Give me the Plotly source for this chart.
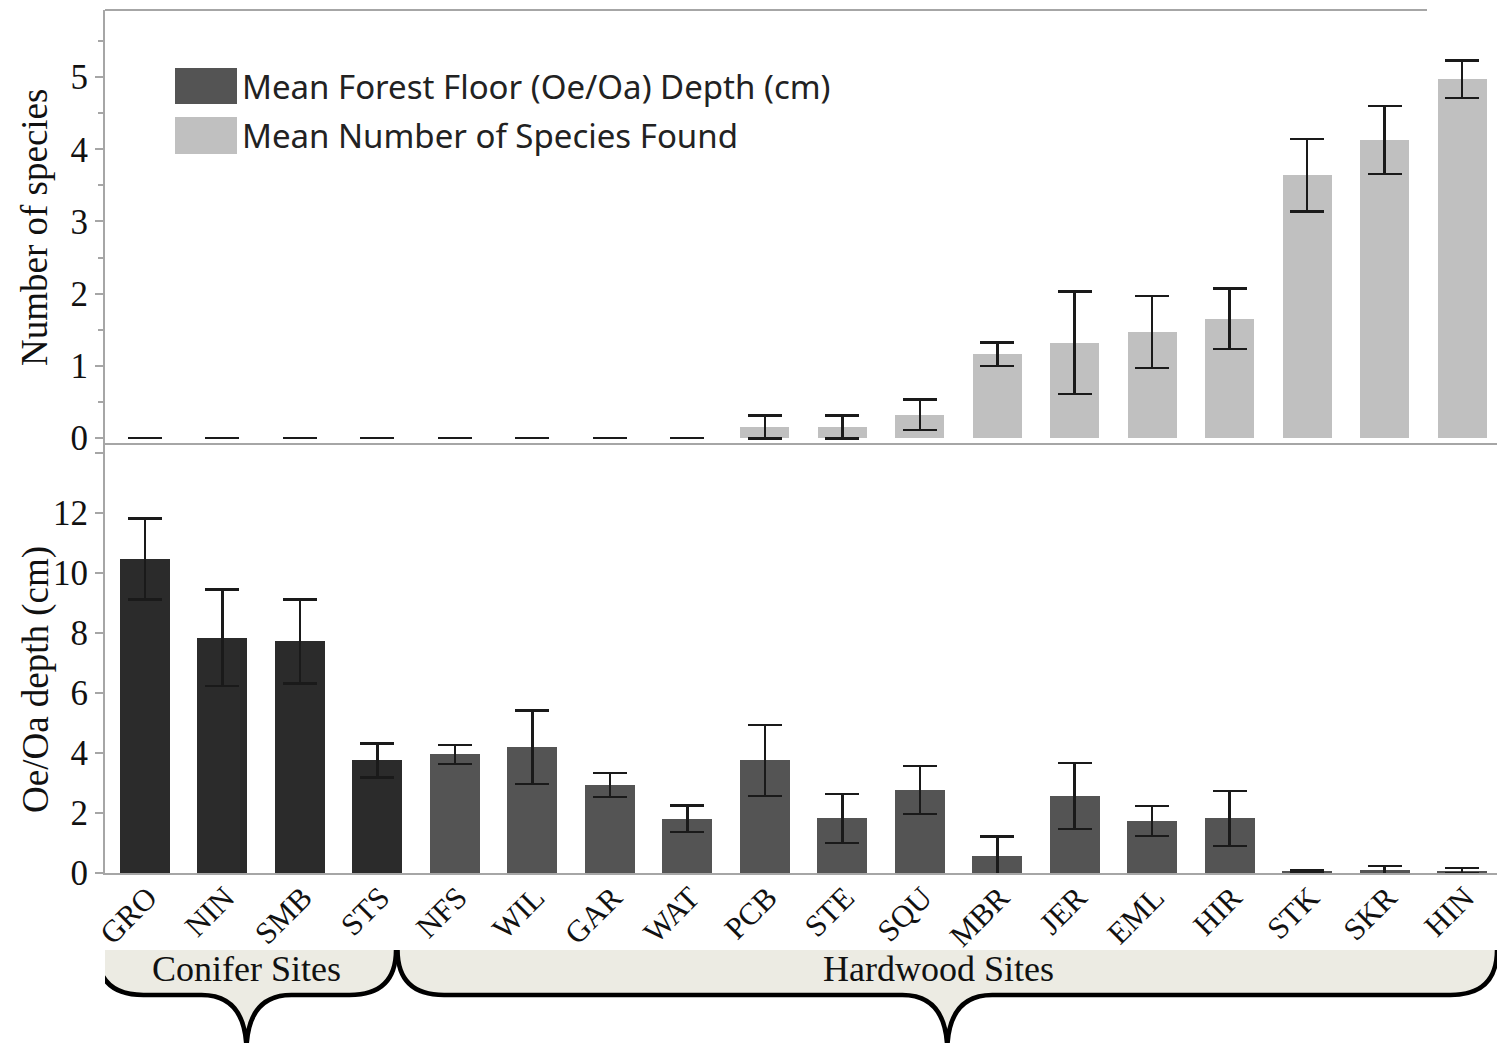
import plotly.graph_objects as go

# ---- data -------------------------------------------------------------
sites = ["GRO", "NIN", "SMB", "STS", "NFS", "WIL", "GAR", "WAT", "PCB",
         "STE", "SQU", "MBR", "JER", "EML", "HIR", "STK", "SKR", "HIN"]
site_type = ["Conifer"] * 4 + ["Hardwood"] * 14

species_mean = [0, 0, 0, 0, 0, 0, 0, 0, 0.15, 0.15, 0.32, 1.16, 1.32, 1.47,
                1.65, 3.64, 4.13, 4.97]
species_err = [0, 0, 0, 0, 0, 0, 0, 0, 0.16, 0.16, 0.21, 0.16, 0.71, 0.50,
               0.42, 0.50, 0.47, 0.26]

depth_mean = [10.47, 7.84, 7.72, 3.75, 3.95, 4.19, 2.93, 1.81, 3.75, 1.82,
              2.76, 0.57, 2.57, 1.74, 1.82, 0.05, 0.10, 0.08]
depth_err = [1.35, 1.60, 1.40, 0.56, 0.32, 1.23, 0.40, 0.44, 1.18, 0.82,
             0.80, 0.64, 1.10, 0.50, 0.92, 0.03, 0.13, 0.09]

group_labels = ["Conifer Sites", "Hardwood Sites"]
group_spans = [(-0.62, 3.24), (3.26, 17.45)]   # brace extents on the x axis
group_label_shift = [0, -9]                    # px nudge of the group captions

legend_labels = ["Mean Forest Floor (Oe/Oa) Depth (cm)",
                 "Mean Number of Species Found"]

# ---- styling ----------------------------------------------------------
W, H = 1497, 1043
SERIF = "Liberation Serif, Times New Roman, serif"
SANS = "Noto Sans, Open Sans, sans-serif"
C_CONIFER = "#2b2b2b"
C_HARDWOOD = "#545454"
C_SPECIES = "#c0c0c0"
C_AXIS = "#a6a6a6"
C_ERR = "#1a1a1a"
C_BRACE_FILL = "#ecebe3"


def py(p):
    """pixel row -> paper y"""
    return 1 - p / H


def px(p):
    """pixel column -> paper x"""
    return p / W


x = list(range(len(sites)))
depth_colors = [C_CONIFER if t == "Conifer" else C_HARDWOOD for t in site_type]

fig = go.Figure()

# lower panel: forest floor depth
fig.add_trace(go.Bar(
    x=x, y=depth_mean, width=0.645,
    marker=dict(color=depth_colors, line=dict(width=0)),
    error_y=dict(type="data", array=depth_err, visible=True,
                 color=C_ERR, thickness=2.5, width=17),
    xaxis="x", yaxis="y", showlegend=False,
))

# upper panel: number of species
fig.add_trace(go.Bar(
    x=x, y=species_mean, width=0.63,
    marker=dict(color=C_SPECIES, line=dict(width=0)),
    error_y=dict(type="data", array=species_err, visible=True,
                 color=C_ERR, thickness=2.5, width=17),
    xaxis="x2", yaxis="y2", showlegend=False,
))

x_dom = [px(105), 1.0]
x_rng = [-0.516, 17.45]

fig.update_layout(
    width=W, height=H,
    margin=dict(l=0, r=0, t=0, b=0, autoexpand=False),
    paper_bgcolor="white", plot_bgcolor="white",
    bargap=0,
    xaxis=dict(domain=x_dom, range=x_rng, anchor="y", automargin=False,
               tickvals=x, ticktext=sites, tickangle=-45,
               ticklabelstandoff=-8, ticklabelshift=3,
               tickfont=dict(family=SERIF, size=31, color="#111"),
               showline=True, linecolor=C_AXIS, linewidth=2,
               ticks="", showgrid=False, zeroline=False),
    xaxis2=dict(domain=x_dom, range=x_rng, anchor="y2", matches="x",
                automargin=False,
                showticklabels=False, showline=True, linecolor=C_AXIS,
                linewidth=2, ticks="", showgrid=False, zeroline=False),
    yaxis=dict(domain=[py(873), py(443)], range=[0, 14.33], anchor="x",
               automargin=False,
               tickvals=[0, 2, 4, 6, 8, 10, 12],
               tickfont=dict(family=SERIF, size=35, color="#111"),
               ticks="outside", ticklen=8, tickcolor=C_AXIS, tickwidth=2,
               minor=dict(tickvals=[14], ticks="outside", ticklen=8,
                          tickcolor=C_AXIS, tickwidth=2),
               showline=True, linecolor=C_AXIS, linewidth=2,
               showgrid=False, zeroline=False),
    yaxis2=dict(domain=[py(443), py(10)], range=[-0.07, 5.93], anchor="x2",
                automargin=False,
                tickvals=[0, 1, 2, 3, 4, 5],
                tickfont=dict(family=SERIF, size=35, color="#111"),
                ticks="outside", ticklen=8, tickcolor=C_AXIS, tickwidth=2,
                minor=dict(dtick=0.5, tick0=0, ticks="outside", ticklen=5,
                           tickcolor=C_AXIS, tickwidth=1.5),
                showline=True, linecolor=C_AXIS, linewidth=2,
                showgrid=False, zeroline=False),
)

shapes = []
annotations = []

# frame line along the top of the upper panel
shapes.append(dict(type="line", xref="paper", yref="paper",
                   x0=px(105), x1=px(1427), y0=py(10), y1=py(10),
                   line=dict(color=C_AXIS, width=2)))

# key
key_colors = [C_HARDWOOD, C_SPECIES]
key_rows = [(68, 104), (117, 154)]
for label, col, (top, bot) in zip(legend_labels, key_colors, key_rows):
    shapes.append(dict(type="rect", xref="paper", yref="paper",
                       x0=px(175), x1=px(237), y0=py(bot), y1=py(top),
                       fillcolor=col, line=dict(width=0)))
    annotations.append(dict(xref="paper", yref="paper", x=px(240),
                            y=py((top + bot) / 2), xanchor="left",
                            yanchor="middle", showarrow=False, text=label,
                            font=dict(family=SANS, size=33, color="#222")))

# axis titles
annotations.append(dict(xref="paper", yref="paper", x=px(35), y=py(228),
                        text="Number of species", textangle=-90,
                        showarrow=False, xanchor="center", yanchor="middle",
                        font=dict(family=SERIF, size=37, color="#111")))
annotations.append(dict(xref="paper", yref="paper", x=px(36), y=py(680),
                        text="Oe/Oa depth (cm)", textangle=-90,
                        showarrow=False, xanchor="center", yanchor="middle",
                        font=dict(family=SERIF, size=37, color="#111")))

# curly braces grouping the sites
y_top, y_mid, y_tip = py(950), py(995), py(1052)
r_end, r_tip = 0.6, 0.58
for label, (a, b), dx in zip(group_labels, group_spans, group_label_shift):
    m = (a + b) / 2
    body = (f"M {a},{y_top} Q {a},{y_mid} {a + r_end},{y_mid} "
            f"L {m - r_tip},{y_mid} Q {m},{y_mid} {m},{y_tip} "
            f"Q {m},{y_mid} {m + r_tip},{y_mid} "
            f"L {b - r_end},{y_mid} Q {b},{y_mid} {b},{y_top}")
    shapes.append(dict(type="path", xref="x", yref="paper", layer="below",
                       path=body + " Z", fillcolor=C_BRACE_FILL,
                       line=dict(width=0)))
    shapes.append(dict(type="path", xref="x", yref="paper", layer="above",
                       path=body, fillcolor="rgba(0,0,0,0)",
                       line=dict(color="black", width=4.5)))
    annotations.append(dict(xref="x", yref="paper", x=m, y=py(969),
                            xshift=dx, text=label, showarrow=False,
                            xanchor="center", yanchor="middle",
                            font=dict(family=SERIF, size=36, color="#111")))

fig.update_layout(shapes=shapes, annotations=annotations)

fig.write_html("out.html")
